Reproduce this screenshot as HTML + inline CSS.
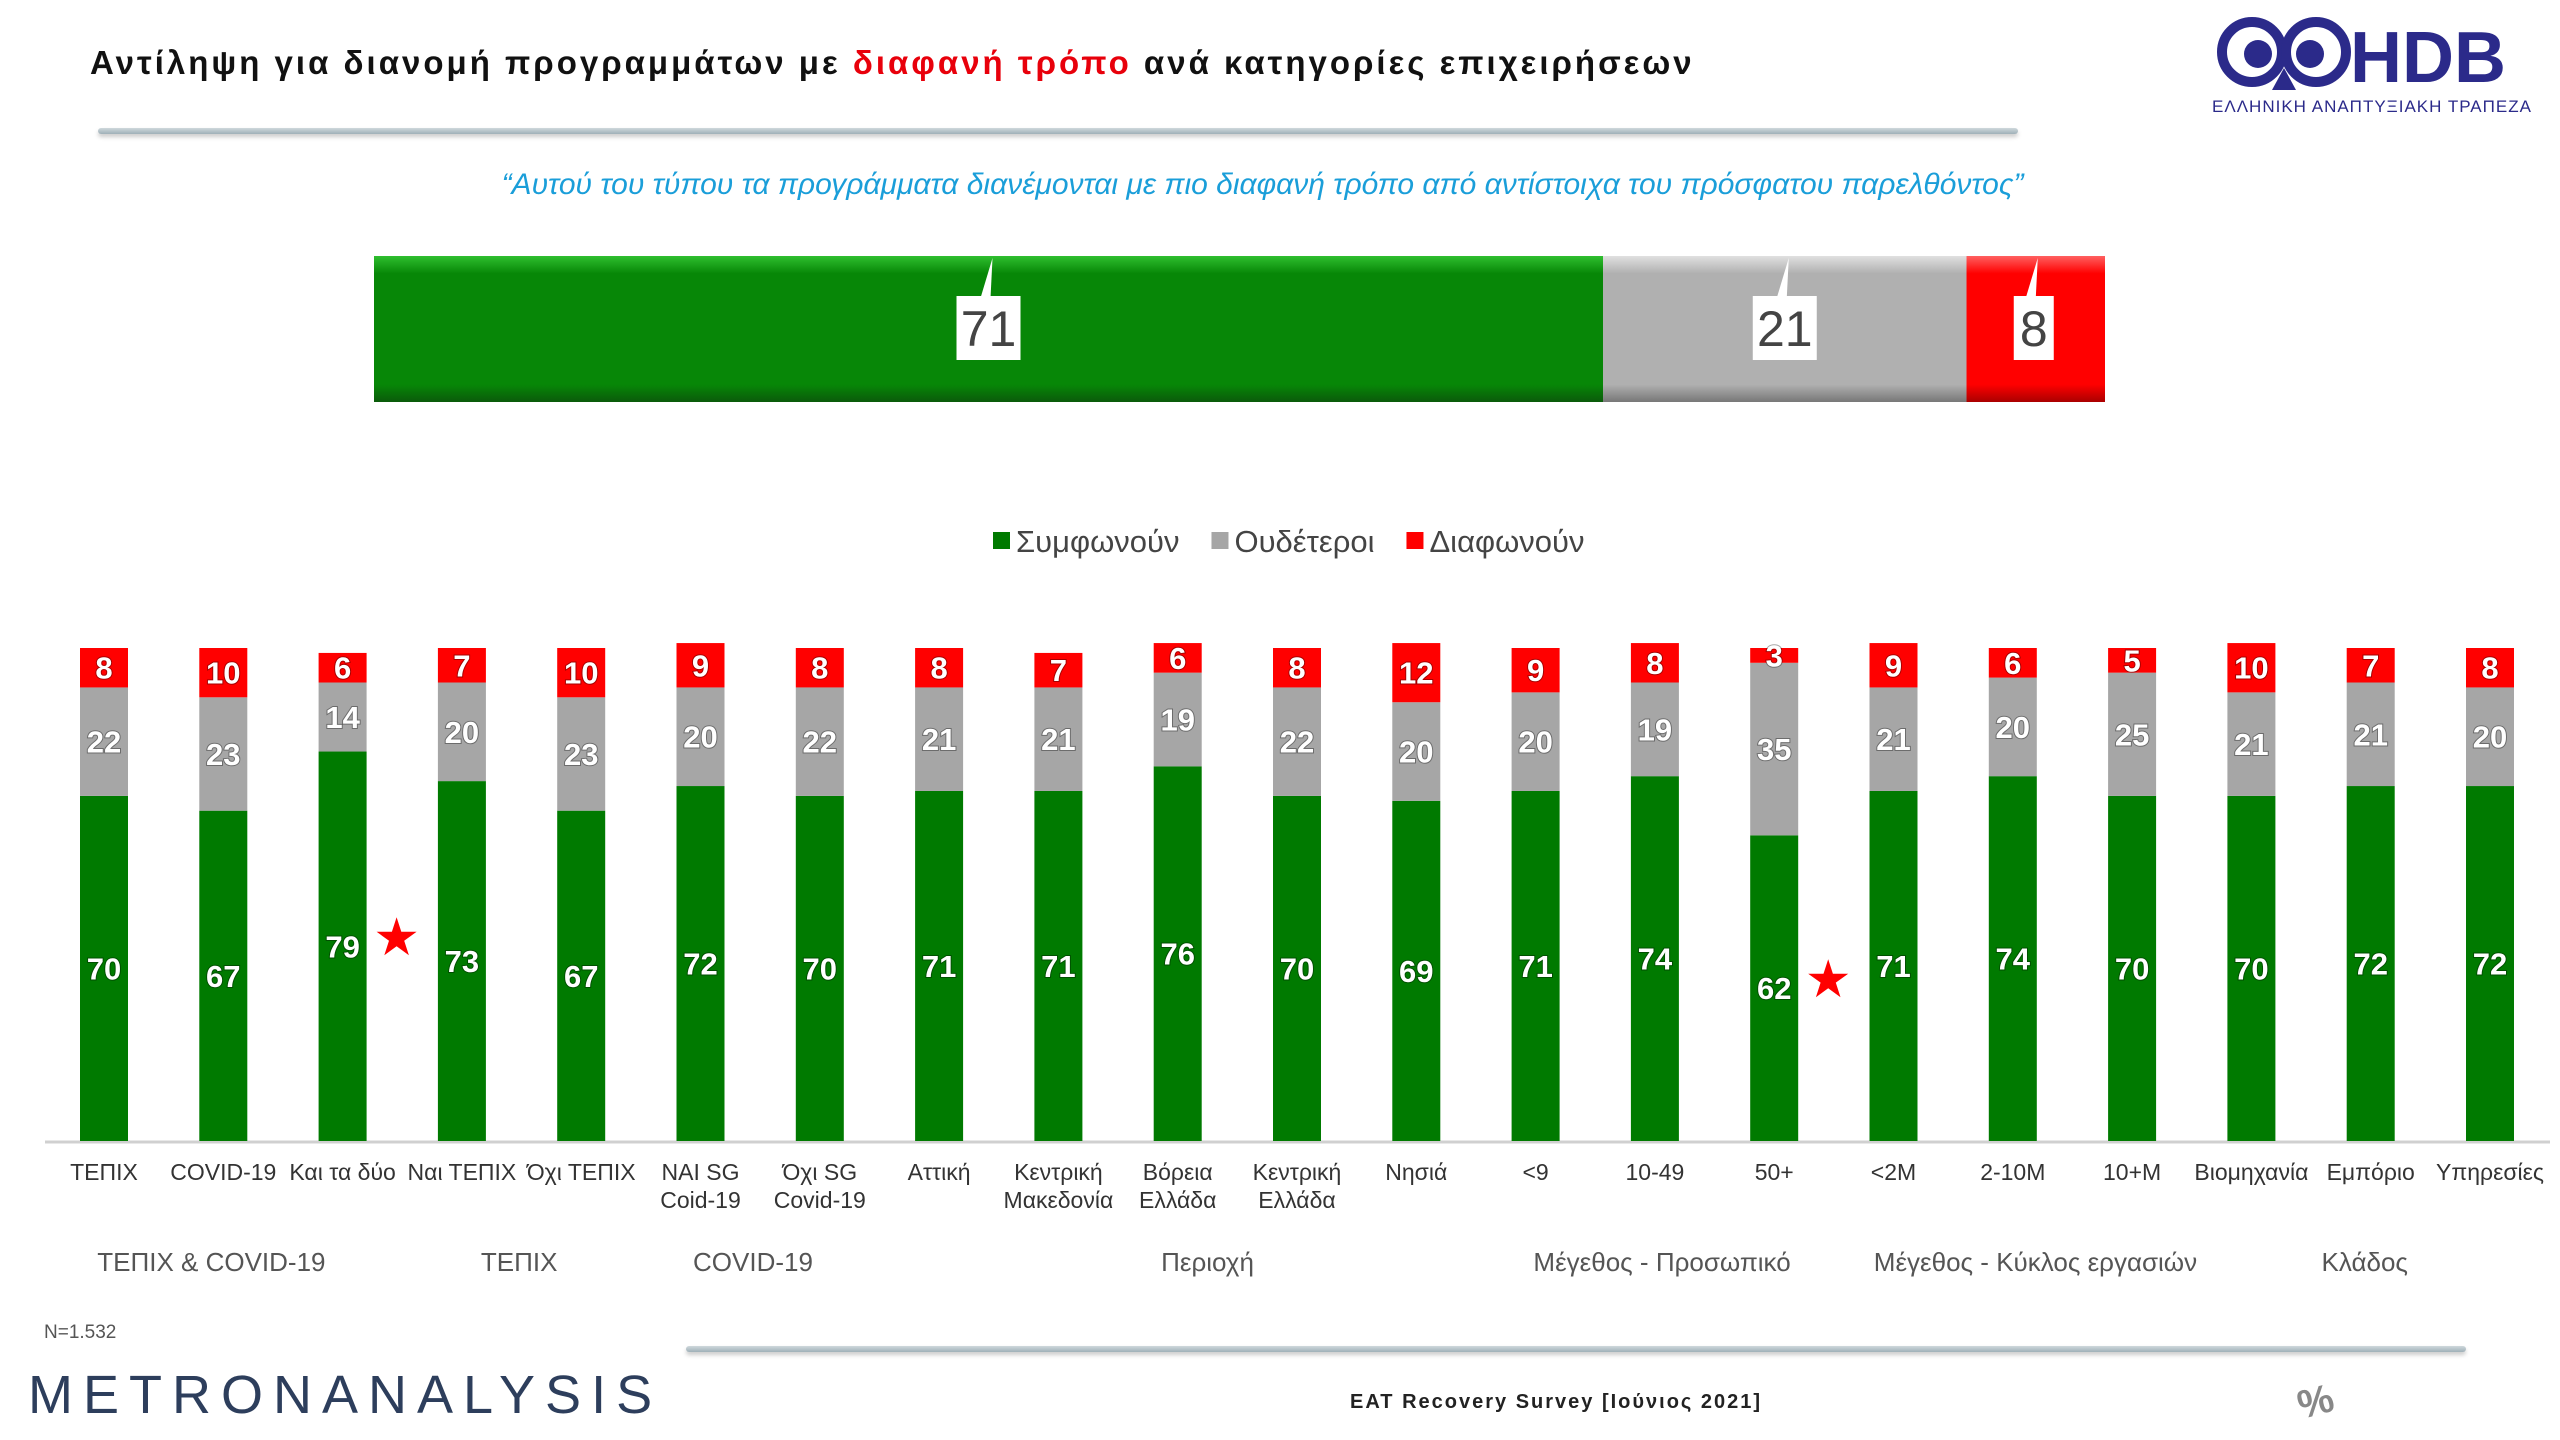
<!DOCTYPE html>
<html><head><meta charset="utf-8">
<style>
body{margin:0;width:2560px;height:1440px;background:#fff;font-family:"Liberation Sans","DejaVu Sans",sans-serif;overflow:hidden;position:relative}
.abs{position:absolute}
</style></head><body>
<div class="abs" style="left:90px;top:44px;font-size:33px;font-weight:bold;letter-spacing:3px;color:#111;white-space:nowrap">Αντίληψη για διανομή προγραμμάτων με <span style="color:#e8000b">διαφανή τρόπο</span> ανά κατηγορίες επιχειρήσεων</div>
<div class="abs" style="left:98px;top:128px;width:1920px;height:6px;background:linear-gradient(#cfd8dc,#9fb0b8);border-radius:3px;box-shadow:0 3px 4px #ccc"></div>
<div class="abs" style="left:2210px;top:10px;width:330px;height:110px">
<svg width="330" height="110"><circle cx="42" cy="42" r="30" fill="none" stroke="#2b2a8a" stroke-width="10"/><circle cx="106" cy="42" r="30" fill="none" stroke="#2b2a8a" stroke-width="10"/><circle cx="48" cy="44" r="14" fill="#2b2a8a"/><circle cx="100" cy="44" r="14" fill="#2b2a8a"/><polygon points="74,58 62,80 86,80" fill="#2b2a8a"/>
<text x="140" y="72" font-family="Liberation Sans" font-weight="bold" font-size="72" fill="#2b2a8a">HDB</text>
<text x="2" y="102" font-family="Liberation Sans" font-size="17" fill="#2b2a8a" letter-spacing="1">ΕΛΛΗΝΙΚΗ ΑΝΑΠΤΥΞΙΑΚΗ ΤΡΑΠΕΖΑ</text></svg></div>
<div class="abs" style="left:0;width:2525px;text-align:center;top:168px;font-size:30px;font-style:italic;color:#1a9ed9">“Αυτού του τύπου τα προγράμματα διανέμονται με πιο διαφανή τρόπο από αντίστοιχα του πρόσφατου παρελθόντος”</div>
<svg class="abs" style="left:0;top:0" width="2560" height="1440" id="chart"></svg>
<div class="abs" style="left:44px;top:1322px;font-size:19px;color:#555">N=1.532</div>
<div class="abs" style="left:686px;top:1346px;width:1780px;height:6px;background:linear-gradient(#cfd8dc,#9fb0b8);border-radius:3px;box-shadow:0 3px 4px #ccc"></div>
<div class="abs" style="left:28px;top:1364px;font-size:54px;letter-spacing:10px;color:#2d3e5c">METRONANALYSIS</div>
<div class="abs" style="left:1350px;top:1391px;font-size:20px;font-weight:bold;letter-spacing:2px;color:#222">EAT Recovery Survey [Ιούνιος 2021]</div>
<div class="abs" style="left:2298px;top:1380px;font-size:40px;font-weight:bold;color:#888;transform:rotate(-15deg)">%</div>
<script>
const categories=["ΤΕΠΙΧ","COVID-19","Και τα δύο","Ναι ΤΕΠΙΧ","Όχι ΤΕΠΙΧ","ΝΑΙ SG|Coid-19","Όχι SG|Covid-19","Αττική","Κεντρική|Μακεδονία","Βόρεια|Ελλάδα","Κεντρική|Ελλάδα","Νησιά","<9","10-49","50+","<2M","2-10M","10+M","Βιομηχανία","Εμπόριο","Υπηρεσίες"];
const agree=[70,67,79,73,67,72,70,71,71,76,70,69,71,74,62,71,74,70,70,72,72];
const neutral=[22,23,14,20,23,20,22,21,21,19,22,20,20,19,35,21,20,25,21,21,20];
const disagree=[8,10,6,7,10,9,8,8,7,6,8,12,9,8,3,9,6,5,10,7,8];
const starred=[2,14];
const totalLabels=["71","21","8"];
const totalValues=[71,21,8];
const legendNames=["Συμφωνούν","Ουδέτεροι","Διαφωνούν"];
const groupNames=["ΤΕΠΙΧ & COVID-19","ΤΕΠΙΧ","COVID-19","Περιοχή","Μέγεθος - Προσωπικό","Μέγεθος - Κύκλος εργασιών","Κλάδος"];
const groupCenters=[0.9,3.48,5.44,9.25,13.06,16.19,18.95];
const NS="http://www.w3.org/2000/svg";
const svg=document.getElementById('chart');
function mk(t,a,p){const e=document.createElementNS(NS,t);for(const k in a)e.setAttribute(k,a[k]);(p||svg).appendChild(e);return e;}
const base=1141, pxPer=4.93, x0=104, step=119.3, bw=48;
const xc=i=>x0+i*step, yv=v=>base-v*pxPer;
const cols=["#007a00","#a6a6a6","#ff0000"];
let ax=mk('line',{x1:45,x2:2550,y1:base+1,y2:base+1,stroke:'#d0d0d0','stroke-width':3});

categories.forEach((c,i)=>{
  const vals=[agree[i],neutral[i],disagree[i]];let cum=0;
  vals.forEach((v,s)=>{
    const r=mk('rect',{x:xc(i)-bw/2,y:yv(cum+v),width:bw,height:v*pxPer,fill:cols[s]});
    
    
    const t=mk('text',{x:xc(i),y:yv(cum+v/2)+11,'text-anchor':'middle','font-size':31,'font-weight':'bold',fill:'#fff',style:'paint-order:stroke;stroke:rgba(0,0,0,0.35);stroke-width:2px'});
    t.textContent=v;
    
    
    cum+=v;
  });
  const lines=c.split('|');
  lines.forEach((l,k)=>{const t=mk('text',{x:xc(i),y:1180+k*28,'text-anchor':'middle','font-size':23,fill:'#333'});t.textContent=l;
    
    });
});
starred.forEach(i=>{
  const cx=xc(i)+54, cy=yv(agree[i]/2)-8; let pts=[];
  for(let k=0;k<10;k++){const r=k%2?8:21,a=-Math.PI/2+k*Math.PI/5;pts.push((cx+r*Math.cos(a)).toFixed(1)+','+(cy+r*Math.sin(a)).toFixed(1));}
  const s=mk('polygon',{points:pts.join(' '),fill:'#ff0000'});
  
  
});
groupNames.forEach((g,k)=>{const t=mk('text',{x:xc(groupCenters[k]),y:1271,'text-anchor':'middle','font-size':26,fill:'#555'});t.textContent=g;
  
  });
let lx=993;
legendNames.forEach((n,s)=>{
  const r=mk('rect',{x:lx,y:532,width:17,height:17,fill:cols[s]});
  
  
  const t=mk('text',{x:lx+23,y:552,'font-size':31,fill:'#444'});t.textContent=n;
  
  
  lx+=23+t.getComputedTextLength()+32;
});
const tx0=374, tw=1731, ty=256, th=146;
const tcols=[["#2fbf2f","#078707","#0a5a0a"],["#e0e0e0","#b0b0b0","#777"],["#ff6060","#ff0000","#a00"]];
const defs=mk('defs',{});
let cum=0;
totalValues.forEach((v,s)=>{
  const g=mk('linearGradient',{id:'tg'+s,x1:0,y1:0,x2:0,y2:1},defs);
  mk('stop',{offset:'0','stop-color':tcols[s][0]},g);
  mk('stop',{offset:'0.12','stop-color':tcols[s][1]},g);
  mk('stop',{offset:'0.88','stop-color':tcols[s][1]},g);
  mk('stop',{offset:'1','stop-color':tcols[s][2]},g);
  const x=tx0+cum/100*tw,w=v/100*tw;
  const r=mk('rect',{x:x,y:ty,width:w,height:th,fill:'url(#tg'+s+')'});
  
  
  const cx=x+w/2+(s==2?-2:0);
  const bxw=16+totalLabels[s].length*24;
  mk('polygon',{points:`${cx+4},${ty+2} ${cx-8},${ty+42} ${cx+2},${ty+42}`,fill:'#fff'});
  const b=mk('rect',{x:cx-bxw/2,y:ty+40,width:bxw,height:64,fill:'#fff'});
  
  
  const t=mk('text',{x:cx,y:ty+90,'text-anchor':'middle','font-size':50,fill:'#444'});t.textContent=totalLabels[s];
  
  
  cum+=v;
});
</script>
</body></html>
